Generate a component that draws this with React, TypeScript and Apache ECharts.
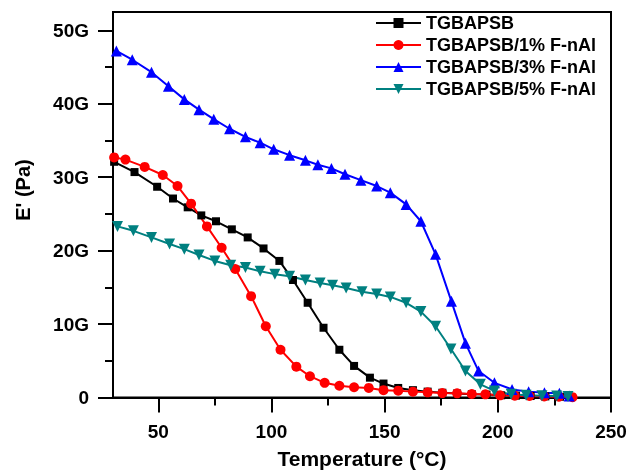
import React, { useEffect, useRef } from "react";
import * as echarts from "echarts";

const seriesNames = ["TGBAPSB", "TGBAPSB/1% F-nAl", "TGBAPSB/3% F-nAl", "TGBAPSB/5% F-nAl"];

// Temperature (°C) and storage modulus E' (GPa)
const blackT = [30.5, 39.5, 49.5, 56.5, 63, 69, 75.5, 82.5, 89.5, 96.5, 103.5, 109.5, 116, 123, 130, 136.5, 143.5, 149.5, 156, 162.5, 169, 175.5, 182, 188.5, 195, 201.5, 208, 214.5, 221, 227.5];
const blackE = [32.1, 30.7, 28.7, 27.1, 25.9, 24.8, 24.0, 22.9, 21.8, 20.3, 18.6, 16.0, 12.9, 9.5, 6.5, 4.3, 2.7, 1.9, 1.3, 1.0, 0.8, 0.65, 0.55, 0.45, 0.4, 0.3, 0.25, 0.2, 0.15, 0.1];

const redT = [30.5, 35.5, 44, 52, 58.5, 64.5, 71.5, 78, 84, 91, 97.5, 104, 111, 117, 123.5, 130, 136.5, 143, 149.5, 156, 162.5, 169, 175.5, 182, 188.5, 194.5, 201, 207.5, 214, 220.5, 227, 233];
const redE = [32.7, 32.4, 31.4, 30.3, 28.8, 26.4, 23.3, 20.4, 17.5, 13.8, 9.7, 6.5, 4.2, 2.9, 2.0, 1.6, 1.4, 1.3, 1.0, 0.93, 0.8, 0.7, 0.6, 0.57, 0.48, 0.43, 0.3, 0.25, 0.2, 0.15, 0.1, 0.05];

const blueT = [31.5, 38.5, 47, 54.5, 61.5, 68, 74.5, 81.5, 88.5, 95, 101, 108, 115, 120.5, 126.5, 132.5, 139.5, 146.5, 152.5, 159.5, 166, 172.5, 179.5, 185.7, 191.5, 198.5, 206.3, 213.6, 220.6, 227.2, 231.5];
const blueE = [47.2, 46.0, 44.3, 42.4, 40.6, 39.2, 37.9, 36.6, 35.5, 34.7, 33.8, 33.0, 32.3, 31.7, 31.2, 30.4, 29.6, 28.8, 27.9, 26.3, 24.0, 19.5, 13.1, 7.4, 3.6, 2.0, 1.1, 0.8, 0.65, 0.57, 0.2];

const tealT = [32, 39, 47, 55, 61.5, 68, 75, 82, 88.5, 95, 101.5, 108, 115, 121.5, 127, 133, 140, 146.5, 152.5, 159.5, 166, 172.5, 179.3, 185.7, 192.3, 198.5, 205.9, 212.5, 219.5, 226, 231];
const tealE = [23.3, 22.7, 21.8, 20.9, 20.2, 19.4, 18.6, 18.0, 17.7, 17.2, 16.8, 16.5, 16.0, 15.6, 15.3, 14.9, 14.4, 14.1, 13.7, 12.9, 11.7, 9.7, 6.6, 3.6, 1.8, 0.9, 0.43, 0.3, 0.25, 0.2, 0.15];

const xMajorTicks = [50, 100, 150, 200, 250];
const xMinorTicks = [75, 125, 175, 225];
const yMajorTicks = [0, 10, 20, 30, 40, 50];
const yMinorTicks = [5, 15, 25, 35, 45];

const X_MIN = 30;
const X_MAX = 250;
const Y_MIN = 0;
const Y_MAX = 52.5;

const FONT = "Arial, Liberation Sans, sans-serif";

function pairs(t: number[], e: number[]) {
  return t.map((v, i) => [v, e[i]]);
}

export default function App() {
  const ref = useRef<HTMLDivElement>(null);

  useEffect(() => {
    if (!ref.current) return;
    const chart = echarts.init(ref.current, null, { renderer: "svg" });
    const axisLineStyle = { color: "#000", width: 2 };
    const tickLine = { color: "#000", width: 2 };
    const labelStyle = { fontSize: 19, fontWeight: "bold" as const, color: "#000", fontFamily: FONT };

    const mkSeries = (name: string, data: number[][], color: string, symbol: string, size: number, rotate = 0) => ({
      name,
      type: "line",
      data,
      xAxisIndex: 0,
      yAxisIndex: 0,
      symbol,
      symbolSize: size,
      symbolRotate: rotate,
      showSymbol: true,
      lineStyle: { color, width: 2 },
      itemStyle: { color, borderWidth: 0 },
      clip: true,
    });

    const tickAxisX = (values: number[], len: number) => ({
      type: "value",
      min: X_MIN,
      max: X_MAX,
      position: "bottom",
      axisLine: { show: false, onZero: false },
      axisTick: { show: true, customValues: values, length: len, lineStyle: tickLine },
      axisLabel: { show: false },
      splitLine: { show: false },
    });
    const tickAxisY = (values: number[], len: number) => ({
      type: "value",
      min: Y_MIN,
      max: Y_MAX,
      position: "left",
      axisLine: { show: false, onZero: false },
      axisTick: { show: true, customValues: values, length: len, lineStyle: tickLine },
      axisLabel: { show: false },
      splitLine: { show: false },
    });

    const option: any = {
      animation: false,
      grid: {
        left: 113,
        right: 20,
        top: 12,
        bottom: 74.5,
        containLabel: false,
        show: true,
        borderColor: "#000",
        borderWidth: 2,
        backgroundColor: "transparent",
      },
      legend: {
        show: true,
        orient: "vertical",
        left: 370,
        top: 7,
        itemWidth: 45,
        itemHeight: 12.5,
        itemGap: 0,
        textStyle: { fontSize: 18, fontWeight: "bold", color: "#000", fontFamily: FONT, lineHeight: 22 },
        data: seriesNames,
      },
      xAxis: [
        {
          type: "value",
          min: X_MIN,
          max: X_MAX,
          position: "bottom",
          axisLine: { show: true, onZero: false, lineStyle: axisLineStyle },
          axisTick: { show: false },
          axisLabel: { show: true, customValues: xMajorTicks, margin: 24, ...labelStyle },
          splitLine: { show: false },
        },
        tickAxisX(xMajorTicks, 15),
        tickAxisX(xMinorTicks, 8),
      ],
      yAxis: [
        {
          type: "value",
          min: Y_MIN,
          max: Y_MAX,
          position: "left",
          axisLine: { show: true, onZero: false, lineStyle: axisLineStyle },
          axisTick: { show: false },
          axisLabel: {
            show: true,
            customValues: yMajorTicks,
            margin: 24,
            ...labelStyle,
            formatter: (v: number) => (v === 0 ? "0" : `${v}G`),
          },
          splitLine: { show: false },
        },
        tickAxisY(yMajorTicks, 15),
        tickAxisY(yMinorTicks, 8),
      ],
      graphic: [
        {
          type: "text",
          x: 362,
          y: 458,
          style: {
            text: "Temperature (°C)",
            font: `bold 21px ${FONT}`,
            fill: "#000",
            textAlign: "center",
            textVerticalAlign: "middle",
            align: "center",
            verticalAlign: "middle",
          },
        },
        {
          type: "text",
          x: 23,
          y: 190,
          rotation: Math.PI / 2,
          style: {
            text: "E' (Pa)",
            font: `bold 20px ${FONT}`,
            fill: "#000",
            textAlign: "center",
            textVerticalAlign: "middle",
            align: "center",
            verticalAlign: "middle",
          },
        },
      ],
      series: [
        mkSeries(seriesNames[0], pairs(blackT, blackE), "#000000", "rect", 8),
        mkSeries(seriesNames[1], pairs(redT, redE), "#ff0000", "circle", 10),
        mkSeries(seriesNames[2], pairs(blueT, blueE), "#0000ff", "triangle", 11),
        mkSeries(seriesNames[3], pairs(tealT, tealE), "#008080", "triangle", 11, 180),
      ],
    };

    chart.setOption(option);
    return () => chart.dispose();
  }, []);

  return <div ref={ref} style={{ position: "fixed", left: 0, top: 0, width: 631, height: 472 }} />;
}
